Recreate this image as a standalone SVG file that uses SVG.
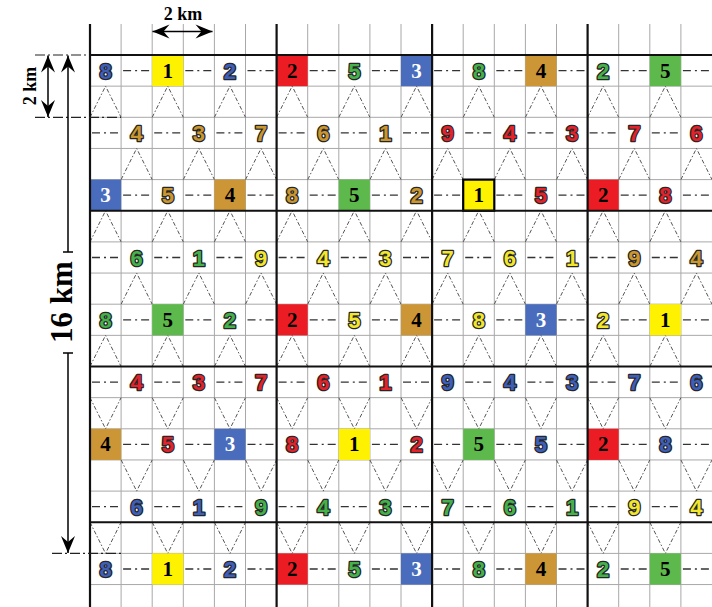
<svg xmlns="http://www.w3.org/2000/svg" width="712" height="607" viewBox="0 0 712 607">
<style>
.thin{stroke:#a8a8a8;stroke-width:1;fill:none}
.thick{stroke:#111;stroke-width:2.2;fill:none}
.dd{stroke:#333;stroke-width:1.3;fill:none;stroke-dasharray:8 4 2 4 8 36.2}
.diag{stroke:#555;stroke-width:1;fill:none;stroke-dasharray:4 2 1.5 2}
.ddl{stroke:#222;stroke-width:1.2;fill:none;stroke-dasharray:10 3 2 3}
.n{font-family:"Liberation Sans",Arial,sans-serif;font-weight:bold;font-size:22px;text-anchor:middle;stroke:#262626;stroke-width:2.6;paint-order:stroke;stroke-linejoin:round}
.t{font-family:"Liberation Serif","Times New Roman",serif;font-weight:bold;font-size:21px;text-anchor:middle;fill:#000}
.w{fill:#fff}
.lab{font-family:"Liberation Serif","Times New Roman",serif;font-weight:bold;fill:#000;text-anchor:middle}
.bl{fill:#3d5fba}.gr{fill:#44b14a}.rd{fill:#e4222b}.ye{fill:#f2e72c}.go{fill:#c9962f}
.Bbl{fill:#4a6cbc}.Bgr{fill:#5db94b}.Brd{fill:#ec1c24}.Bye{fill:#fff200}.Bgo{fill:#cc9636}
.arr{stroke:#000;stroke-width:1.5;fill:none}
</style>
<defs>
<marker id="ah" viewBox="-18 -7.5 19 15" refX="0" refY="0" markerWidth="19" markerHeight="15" markerUnits="userSpaceOnUse" orient="auto-start-reverse"><path d="M0 0L-17 -7L-11 0L-17 7Z" fill="#000"/></marker>
</defs>
<rect width="712" height="607" fill="#fff"/>
<g id="grid-thin">
<path class="thin" d="M121.1 24V607M152.2 24V607M183.3 24V607M214.4 24V607M245.5 24V607M307.7 24V607M338.8 24V607M369.9 24V607M401 24V607M463.2 24V607M494.3 24V607M525.4 24V607M556.5 24V607M618.7 24V607M649.8 24V607M680.9 24V607"/>
<path class="thin" d="M90 86.15H712M90 117.3H712M90 148.45H712M90 179.6H712M90 241.9H712M90 273.05H712M90 304.2H712M90 335.35H712M90 397.65H712M90 428.8H712M90 459.95H712M90 491.1H712M90 553.4H712M90 584.55H712"/>
</g>
<g id="connectors">
<line class="dd" x1="90" y1="70.575" x2="712" y2="70.575" stroke-dashoffset="29.1"/>
<line class="dd" x1="90" y1="132.875" x2="712" y2="132.875" stroke-dashoffset="60.2"/>
<line class="dd" x1="90" y1="195.175" x2="712" y2="195.175" stroke-dashoffset="29.1"/>
<line class="dd" x1="90" y1="257.475" x2="712" y2="257.475" stroke-dashoffset="60.2"/>
<line class="dd" x1="90" y1="319.775" x2="712" y2="319.775" stroke-dashoffset="29.1"/>
<line class="dd" x1="90" y1="382.075" x2="712" y2="382.075" stroke-dashoffset="60.2"/>
<line class="dd" x1="90" y1="444.375" x2="712" y2="444.375" stroke-dashoffset="29.1"/>
<line class="dd" x1="90" y1="506.675" x2="712" y2="506.675" stroke-dashoffset="60.2"/>
<line class="dd" x1="90" y1="568.975" x2="712" y2="568.975" stroke-dashoffset="29.1"/>
<path class="diag" d="M90 117.3l15.55-31.15l15.55 31.15m31.1 0l15.55-31.15l15.55 31.15m31.1 0l15.55-31.15l15.55 31.15m31.1 0l15.55-31.15l15.55 31.15m31.1 0l15.55-31.15l15.55 31.15m31.1 0l15.55-31.15l15.55 31.15m31.1 0l15.55-31.15l15.55 31.15m31.1 0l15.55-31.15l15.55 31.15m31.1 0l15.55-31.15l15.55 31.15m31.1 0l15.55-31.15l15.55 31.15"/>
<path class="diag" d="M121.1 179.6l15.55-31.15l15.55 31.15m31.1 0l15.55-31.15l15.55 31.15m31.1 0l15.55-31.15l15.55 31.15m31.1 0l15.55-31.15l15.55 31.15m31.1 0l15.55-31.15l15.55 31.15m31.1 0l15.55-31.15l15.55 31.15m31.1 0l15.55-31.15l15.55 31.15m31.1 0l15.55-31.15l15.55 31.15m31.1 0l15.55-31.15l15.55 31.15m31.1 0l15.55-31.15l15.55 31.15"/>
<path class="diag" d="M90 241.9l15.55-31.15l15.55 31.15m31.1 0l15.55-31.15l15.55 31.15m31.1 0l15.55-31.15l15.55 31.15m31.1 0l15.55-31.15l15.55 31.15m31.1 0l15.55-31.15l15.55 31.15m31.1 0l15.55-31.15l15.55 31.15m31.1 0l15.55-31.15l15.55 31.15m31.1 0l15.55-31.15l15.55 31.15m31.1 0l15.55-31.15l15.55 31.15m31.1 0l15.55-31.15l15.55 31.15"/>
<path class="diag" d="M121.1 304.2l15.55-31.15l15.55 31.15m31.1 0l15.55-31.15l15.55 31.15m31.1 0l15.55-31.15l15.55 31.15m31.1 0l15.55-31.15l15.55 31.15m31.1 0l15.55-31.15l15.55 31.15m31.1 0l15.55-31.15l15.55 31.15m31.1 0l15.55-31.15l15.55 31.15m31.1 0l15.55-31.15l15.55 31.15m31.1 0l15.55-31.15l15.55 31.15m31.1 0l15.55-31.15l15.55 31.15"/>
<path class="diag" d="M90 366.5l15.55-31.15l15.55 31.15m31.1 0l15.55-31.15l15.55 31.15m31.1 0l15.55-31.15l15.55 31.15m31.1 0l15.55-31.15l15.55 31.15m31.1 0l15.55-31.15l15.55 31.15m31.1 0l15.55-31.15l15.55 31.15m31.1 0l15.55-31.15l15.55 31.15m31.1 0l15.55-31.15l15.55 31.15m31.1 0l15.55-31.15l15.55 31.15m31.1 0l15.55-31.15l15.55 31.15"/>
<path class="diag" d="M90 397.65l15.55 31.15l15.55-31.15m31.1 0l15.55 31.15l15.55-31.15m31.1 0l15.55 31.15l15.55-31.15m31.1 0l15.55 31.15l15.55-31.15m31.1 0l15.55 31.15l15.55-31.15m31.1 0l15.55 31.15l15.55-31.15m31.1 0l15.55 31.15l15.55-31.15m31.1 0l15.55 31.15l15.55-31.15m31.1 0l15.55 31.15l15.55-31.15m31.1 0l15.55 31.15l15.55-31.15"/>
<path class="diag" d="M121.1 459.95l15.55 31.15l15.55-31.15m31.1 0l15.55 31.15l15.55-31.15m31.1 0l15.55 31.15l15.55-31.15m31.1 0l15.55 31.15l15.55-31.15m31.1 0l15.55 31.15l15.55-31.15m31.1 0l15.55 31.15l15.55-31.15m31.1 0l15.55 31.15l15.55-31.15m31.1 0l15.55 31.15l15.55-31.15m31.1 0l15.55 31.15l15.55-31.15m31.1 0l15.55 31.15l15.55-31.15"/>
<path class="diag" d="M90 522.25l15.55 31.15l15.55-31.15m31.1 0l15.55 31.15l15.55-31.15m31.1 0l15.55 31.15l15.55-31.15m31.1 0l15.55 31.15l15.55-31.15m31.1 0l15.55 31.15l15.55-31.15m31.1 0l15.55 31.15l15.55-31.15m31.1 0l15.55 31.15l15.55-31.15m31.1 0l15.55 31.15l15.55-31.15m31.1 0l15.55 31.15l15.55-31.15m31.1 0l15.55 31.15l15.55-31.15"/>
</g>
<g id="nodes">
<g id="r0c0"><text class="n bl" x="105.55" y="78.6">8</text></g>
<g id="r0c2"><rect class="Bye" x="152.2" y="55" width="31.1" height="31.15"/><text class="t" x="167.75" y="77.6">1</text></g>
<g id="r0c4"><text class="n bl" x="229.95" y="78.6">2</text></g>
<g id="r0c6"><rect class="Brd" x="276.6" y="55" width="31.1" height="31.15"/><text class="t" x="292.15" y="77.6">2</text></g>
<g id="r0c8"><text class="n gr" x="354.35" y="78.6">5</text></g>
<g id="r0c10"><rect class="Bbl" x="401" y="55" width="31.1" height="31.15"/><text class="t w" x="416.55" y="77.6">3</text></g>
<g id="r0c12"><text class="n gr" x="478.75" y="78.6">8</text></g>
<g id="r0c14"><rect class="Bgo" x="525.4" y="55" width="31.1" height="31.15"/><text class="t" x="540.95" y="77.6">4</text></g>
<g id="r0c16"><text class="n gr" x="603.15" y="78.6">2</text></g>
<g id="r0c18"><rect class="Bgr" x="649.8" y="55" width="31.1" height="31.15"/><text class="t" x="665.35" y="77.6">5</text></g>

<g id="r2c1"><text class="n go" x="136.65" y="140.9">4</text></g>
<g id="r2c3"><text class="n go" x="198.85" y="140.9">3</text></g>
<g id="r2c5"><text class="n go" x="261.05" y="140.9">7</text></g>
<g id="r2c7"><text class="n go" x="323.25" y="140.9">6</text></g>
<g id="r2c9"><text class="n go" x="385.45" y="140.9">1</text></g>
<g id="r2c11"><text class="n rd" x="447.65" y="140.9">9</text></g>
<g id="r2c13"><text class="n rd" x="509.85" y="140.9">4</text></g>
<g id="r2c15"><text class="n rd" x="572.05" y="140.9">3</text></g>
<g id="r2c17"><text class="n rd" x="634.25" y="140.9">7</text></g>
<g id="r2c19"><text class="n rd" x="696.45" y="140.9">6</text></g>

<g id="r4c0"><rect class="Bbl" x="90" y="179.6" width="31.1" height="31.15"/><text class="t w" x="105.55" y="202.2">3</text></g>
<g id="r4c2"><text class="n go" x="167.75" y="203.2">5</text></g>
<g id="r4c4"><rect class="Bgo" x="214.4" y="179.6" width="31.1" height="31.15"/><text class="t" x="229.95" y="202.2">4</text></g>
<g id="r4c6"><text class="n go" x="292.15" y="203.2">8</text></g>
<g id="r4c8"><rect class="Bgr" x="338.8" y="179.6" width="31.1" height="31.15"/><text class="t" x="354.35" y="202.2">5</text></g>
<g id="r4c10"><text class="n go" x="416.55" y="203.2">2</text></g>
<g id="r4c12"><rect class="Bye" x="463.2" y="179.6" width="31.1" height="31.15" stroke="#000" stroke-width="2.2"/><text class="t" x="478.75" y="202.2">1</text></g>
<g id="r4c14"><text class="n rd" x="540.95" y="203.2">5</text></g>
<g id="r4c16"><rect class="Brd" x="587.6" y="179.6" width="31.1" height="31.15"/><text class="t" x="603.15" y="202.2">2</text></g>
<g id="r4c18"><text class="n rd" x="665.35" y="203.2">8</text></g>

<g id="r6c1"><text class="n gr" x="136.65" y="265.5">6</text></g>
<g id="r6c3"><text class="n gr" x="198.85" y="265.5">1</text></g>
<g id="r6c5"><text class="n ye" x="261.05" y="265.5">9</text></g>
<g id="r6c7"><text class="n ye" x="323.25" y="265.5">4</text></g>
<g id="r6c9"><text class="n ye" x="385.45" y="265.5">3</text></g>
<g id="r6c11"><text class="n ye" x="447.65" y="265.5">7</text></g>
<g id="r6c13"><text class="n ye" x="509.85" y="265.5">6</text></g>
<g id="r6c15"><text class="n ye" x="572.05" y="265.5">1</text></g>
<g id="r6c17"><text class="n go" x="634.25" y="265.5">9</text></g>
<g id="r6c19"><text class="n go" x="696.45" y="265.5">4</text></g>

<g id="r8c0"><text class="n gr" x="105.55" y="327.8">8</text></g>
<g id="r8c2"><rect class="Bgr" x="152.2" y="304.2" width="31.1" height="31.15"/><text class="t" x="167.75" y="326.8">5</text></g>
<g id="r8c4"><text class="n gr" x="229.95" y="327.8">2</text></g>
<g id="r8c6"><rect class="Brd" x="276.6" y="304.2" width="31.1" height="31.15"/><text class="t" x="292.15" y="326.8">2</text></g>
<g id="r8c8"><text class="n ye" x="354.35" y="327.8">5</text></g>
<g id="r8c10"><rect class="Bgo" x="401" y="304.2" width="31.1" height="31.15"/><text class="t" x="416.55" y="326.8">4</text></g>
<g id="r8c12"><text class="n ye" x="478.75" y="327.8">8</text></g>
<g id="r8c14"><rect class="Bbl" x="525.4" y="304.2" width="31.1" height="31.15"/><text class="t w" x="540.95" y="326.8">3</text></g>
<g id="r8c16"><text class="n ye" x="603.15" y="327.8">2</text></g>
<g id="r8c18"><rect class="Bye" x="649.8" y="304.2" width="31.1" height="31.15"/><text class="t" x="665.35" y="326.8">1</text></g>

<g id="r10c1"><text class="n rd" x="136.65" y="390.1">4</text></g>
<g id="r10c3"><text class="n rd" x="198.85" y="390.1">3</text></g>
<g id="r10c5"><text class="n rd" x="261.05" y="390.1">7</text></g>
<g id="r10c7"><text class="n rd" x="323.25" y="390.1">6</text></g>
<g id="r10c9"><text class="n rd" x="385.45" y="390.1">1</text></g>
<g id="r10c11"><text class="n bl" x="447.65" y="390.1">9</text></g>
<g id="r10c13"><text class="n bl" x="509.85" y="390.1">4</text></g>
<g id="r10c15"><text class="n bl" x="572.05" y="390.1">3</text></g>
<g id="r10c17"><text class="n bl" x="634.25" y="390.1">7</text></g>
<g id="r10c19"><text class="n bl" x="696.45" y="390.1">6</text></g>

<g id="r12c0"><rect class="Bgo" x="90" y="428.8" width="31.1" height="31.15"/><text class="t" x="105.55" y="451.4">4</text></g>
<g id="r12c2"><text class="n rd" x="167.75" y="452.4">5</text></g>
<g id="r12c4"><rect class="Bbl" x="214.4" y="428.8" width="31.1" height="31.15"/><text class="t w" x="229.95" y="451.4">3</text></g>
<g id="r12c6"><text class="n rd" x="292.15" y="452.4">8</text></g>
<g id="r12c8"><rect class="Bye" x="338.8" y="428.8" width="31.1" height="31.15"/><text class="t" x="354.35" y="451.4">1</text></g>
<g id="r12c10"><text class="n rd" x="416.55" y="452.4">2</text></g>
<g id="r12c12"><rect class="Bgr" x="463.2" y="428.8" width="31.1" height="31.15"/><text class="t" x="478.75" y="451.4">5</text></g>
<g id="r12c14"><text class="n bl" x="540.95" y="452.4">5</text></g>
<g id="r12c16"><rect class="Brd" x="587.6" y="428.8" width="31.1" height="31.15"/><text class="t" x="603.15" y="451.4">2</text></g>
<g id="r12c18"><text class="n bl" x="665.35" y="452.4">8</text></g>

<g id="r14c1"><text class="n bl" x="136.65" y="514.7">6</text></g>
<g id="r14c3"><text class="n bl" x="198.85" y="514.7">1</text></g>
<g id="r14c5"><text class="n gr" x="261.05" y="514.7">9</text></g>
<g id="r14c7"><text class="n gr" x="323.25" y="514.7">4</text></g>
<g id="r14c9"><text class="n gr" x="385.45" y="514.7">3</text></g>
<g id="r14c11"><text class="n gr" x="447.65" y="514.7">7</text></g>
<g id="r14c13"><text class="n gr" x="509.85" y="514.7">6</text></g>
<g id="r14c15"><text class="n gr" x="572.05" y="514.7">1</text></g>
<g id="r14c17"><text class="n ye" x="634.25" y="514.7">9</text></g>
<g id="r14c19"><text class="n ye" x="696.45" y="514.7">4</text></g>

<g id="r16c0"><text class="n bl" x="105.55" y="577">8</text></g>
<g id="r16c2"><rect class="Bye" x="152.2" y="553.4" width="31.1" height="31.15"/><text class="t" x="167.75" y="576">1</text></g>
<g id="r16c4"><text class="n bl" x="229.95" y="577">2</text></g>
<g id="r16c6"><rect class="Brd" x="276.6" y="553.4" width="31.1" height="31.15"/><text class="t" x="292.15" y="576">2</text></g>
<g id="r16c8"><text class="n gr" x="354.35" y="577">5</text></g>
<g id="r16c10"><rect class="Bbl" x="401" y="553.4" width="31.1" height="31.15"/><text class="t w" x="416.55" y="576">3</text></g>
<g id="r16c12"><text class="n gr" x="478.75" y="577">8</text></g>
<g id="r16c14"><rect class="Bgo" x="525.4" y="553.4" width="31.1" height="31.15"/><text class="t" x="540.95" y="576">4</text></g>
<g id="r16c16"><text class="n gr" x="603.15" y="577">2</text></g>
<g id="r16c18"><rect class="Bgr" x="649.8" y="553.4" width="31.1" height="31.15"/><text class="t" x="665.35" y="576">5</text></g>
</g>
<g id="grid-thick">
<path class="thick" d="M90 24V607M276.6 24V607M432.1 24V607M587.6 24V607M89 55H712M89 210.75H712M89 366.5H712M89 522.25H712"/>
</g>
<g id="dimensions">
<line class="ddl" x1="35" y1="55" x2="89" y2="55"/>
<line class="ddl" x1="35" y1="117.3" x2="121" y2="117.3"/>
<line class="ddl" x1="52" y1="553.4" x2="123" y2="553.4"/>
<line class="arr" x1="152.5" y1="31.5" x2="212.5" y2="31.5" marker-start="url(#ah)" marker-end="url(#ah)"/>
<text class="lab" x="183" y="20" font-size="18">2 km</text>
<line class="arr" x1="48" y1="55.5" x2="48" y2="117" marker-start="url(#ah)" marker-end="url(#ah)"/>
<text class="lab" font-size="18" transform="translate(36 86) rotate(-90)">2 km</text>
<line class="arr" x1="68" y1="55.5" x2="68" y2="252" marker-start="url(#ah)"/>
<line class="arr" x1="68" y1="353" x2="68" y2="553" marker-end="url(#ah)"/>
<path class="arr" d="M63 252H73M63 353H73"/>
<text class="lab" font-size="31" transform="translate(72 302) rotate(-90)">16 km</text>
</g>
</svg>
